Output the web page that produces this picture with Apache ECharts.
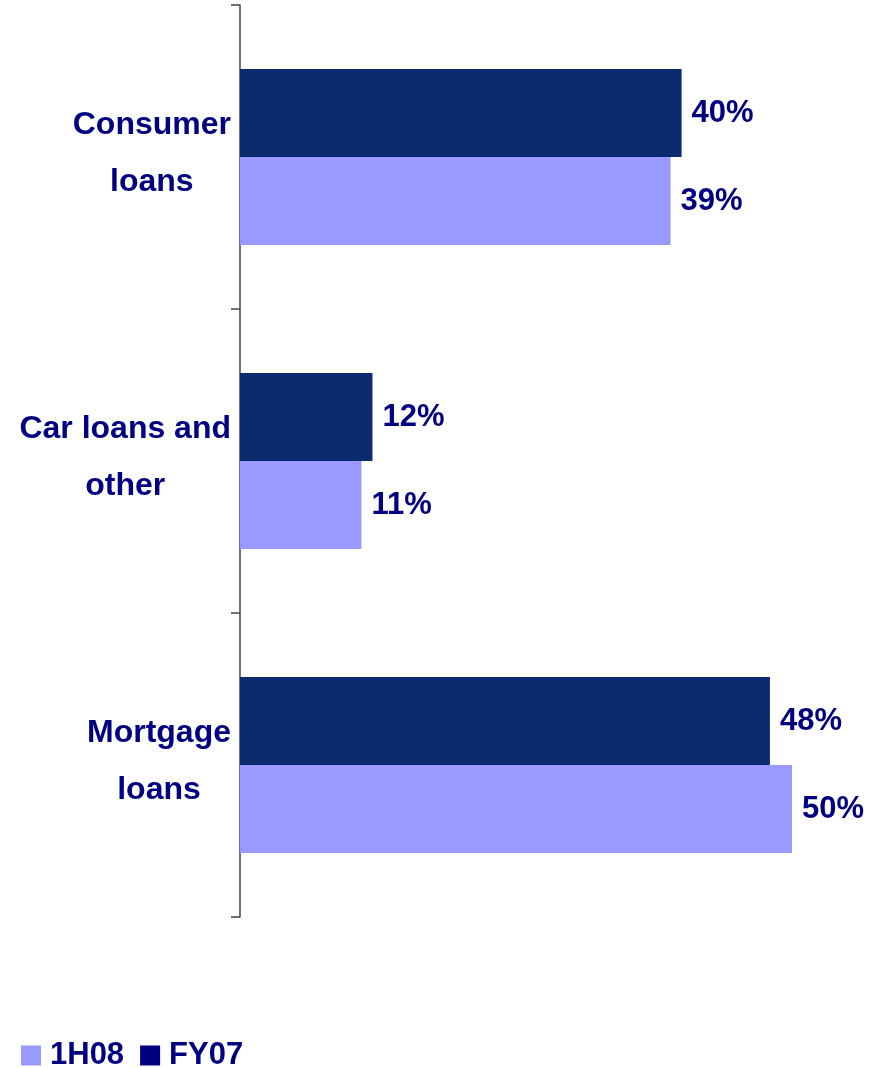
<!DOCTYPE html>
<html>
<head>
<meta charset="utf-8">
<script src="https://cdn.jsdelivr.net/npm/echarts@6/dist/echarts.min.js"></script>
<style>
  html, body { margin: 0; padding: 0; background: #ffffff; }
  #chart { width: 881px; height: 1068px; }
</style>
</head>
<body>
<div id="chart"></div>
<script>
// Loan portfolio mix by product, share of total (%)
const categories = [['Consumer', 'loans'], ['Car loans and', 'other'], ['Mortgage', 'loans']];
const seriesNames = ['FY07', '1H08'];
const fy07 = [40, 12, 48];
const h108 = [39, 11, 50];
const legendOrder = ['1H08', 'FY07'];

const navy = '#000080';
const font = '"Liberation Sans", Arial, sans-serif';

const chart = echarts.init(document.getElementById('chart'), null, { renderer: 'canvas' });

const labelStyle = {
  show: true,
  position: 'right',
  distance: 10,
  color: navy,
  fontFamily: font,
  fontWeight: 'bold',
  fontSize: 31,
  formatter: p => p.value + '%'
};

chart.setOption({
  animation: false,
  backgroundColor: '#ffffff',
  grid: { left: 240, top: 5, width: 552, bottom: 151, containLabel: false },
  xAxis: {
    type: 'value',
    min: 0,
    max: 50,
    show: false
  },
  yAxis: {
    type: 'category',
    inverse: true,
    data: categories.map(c => c.join('\n')),
    axisLine: { show: true, lineStyle: { color: '#444444', width: 1.5 } },
    axisTick: { show: true, length: 9, lineStyle: { color: '#444444', width: 1.5 } },
    axisLabel: {
      margin: 9,
      align: 'right',
      verticalAlign: 'middle',
      padding: [0, 0, 6, 0],
      formatter: v => v.split('\n').map(s => '{c|' + s + '}').join('\n'),
      rich: {
        c: {
          align: 'center',
          color: navy,
          fontFamily: font,
          fontWeight: 'bold',
          fontSize: 32,
          lineHeight: 57
        }
      }
    },
    splitLine: { show: false }
  },
  legend: {
    left: 16,
    bottom: -8,
    orient: 'horizontal',
    icon: 'rect',
    itemWidth: 20,
    itemHeight: 20,
    itemGap: 16,
    data: [
      { name: legendOrder[0], itemStyle: { color: '#9999ff' } },
      { name: legendOrder[1], itemStyle: { color: navy } }
    ],
    textStyle: {
      color: navy,
      fontFamily: font,
      fontWeight: 'bold',
      fontSize: 31,
      padding: [0, 0, 0, 4]
    }
  },
  series: [
    {
      name: seriesNames[0],
      type: 'bar',
      data: fy07,
      barWidth: 88,
      barGap: '0%',
      itemStyle: { color: '#0b2a6f' },
      label: labelStyle
    },
    {
      name: seriesNames[1],
      type: 'bar',
      data: h108,
      barWidth: 88,
      barGap: '0%',
      itemStyle: { color: '#9999ff' },
      label: labelStyle
    }
  ]
});
</script>
</body>
</html>
